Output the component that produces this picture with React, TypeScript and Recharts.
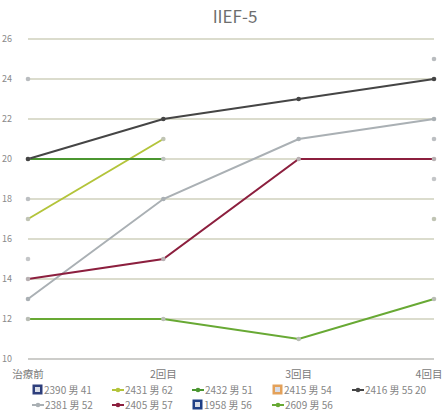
import { LineChart, Line, XAxis, YAxis, CartesianGrid } from "recharts"

const FONT = "'Noto Sans CJK JP', 'Noto Sans', sans-serif"

const visits = ["治療前", "2回目", "3回目", "4回目"]
const yTicks = [10, 12, 14, 16, 18, 20, 22, 24, 26]

// one array per patient, visit order as above (null = not measured)
const p2390 = [24, null, null, 25]
const p2431 = [17, 21, null, 17]
const p2432 = [20, 20, null, null]
const p2415 = [18, null, null, 21]
const p2416 = [20, 22, 23, 24]
const p2381 = [13, 18, 21, 22]
const p2405 = [14, 15, 20, 20]
const p1958 = [15, null, null, 19]
const p2609 = [12, 12, 11, 13]

type Series = { key: string; label: string; values: (number | null)[]; color: string; dot: string; square?: boolean }

const SERIES: Series[] = [
  { key: "p2390", label: "2390 男 41", values: p2390, color: "#2e3f7c", dot: "#b9bcbf", square: true },
  { key: "p2431", label: "2431 男 62", values: p2431, color: "#b3c43a", dot: "#c0c4b4" },
  { key: "p2432", label: "2432 男 51", values: p2432, color: "#4b9630", dot: "#bfc3c0" },
  { key: "p2415", label: "2415 男 54", values: p2415, color: "#e3a15a", dot: "#bcbfc2", square: true },
  { key: "p2416", label: "2416 男 55 20", values: p2416, color: "#454545", dot: "#454545" },
  { key: "p2381", label: "2381 男 52", values: p2381, color: "#aab0b4", dot: "#aab0b4" },
  { key: "p2405", label: "2405 男 57", values: p2405, color: "#8c1f3e", dot: "#b8b0b2" },
  { key: "p1958", label: "1958 男 56", values: p1958, color: "#1f3f86", dot: "#c4c6c8", square: true },
  { key: "p2609", label: "2609 男 56", values: p2609, color: "#68a934", dot: "#b9bdb5" },
]

const rows = visits.map((v, i) => {
  const r: Record<string, string | number | null> = { visit: v }
  SERIES.forEach((s) => (r[s.key] = s.values[i]))
  return r
})

// last category sits on the right edge, nudge it so the label stays inside
function VisitTick(props: any) {
  const { x, y, payload, index } = props
  const dx = index === visits.length - 1 ? -5 : 0
  return (
    <text x={x + dx} y={y + 11} textAnchor="middle" fontSize={10.5} fill="#7a7a7a" fontFamily={FONT}>
      {payload.value}
    </text>
  )
}

function LegendIcon({ s }: { s: Series }) {
  if (s.square) {
    return (
      <svg width={11} height={11} style={{ marginRight: 1 }}>
        <rect x={0.5} y={0.5} width={10} height={10} fill={s.color} />
        <rect x={3} y={3} width={5} height={5} fill="#d8dde8" />
      </svg>
    )
  }
  return (
    <svg width={12} height={8} style={{ marginRight: 1 }}>
      <line x1={0} y1={4} x2={12} y2={4} stroke={s.color} strokeWidth={2} />
      <circle cx={6} cy={4} r={2.3} fill={s.color} />
    </svg>
  )
}

export default function App() {
  return (
    <div style={{ position: "absolute", left: 0, top: 0, width: 445, height: 417, background: "#fff", fontFamily: FONT }}>
      <div style={{ position: "absolute", left: 0, width: 470, top: 3, textAlign: "center", fontSize: 17, color: "#6e6e6e" }}>
        IIEF-5
      </div>
      <LineChart width={445} height={382} data={rows} margin={{ top: 39, right: 11, left: 0, bottom: 0 }}>
        <CartesianGrid vertical={false} stroke="#cfd1bd" strokeWidth={1.5} />
        <XAxis
          dataKey="visit"
          height={23}
          axisLine={{ stroke: "#c8c8c8", strokeWidth: 1.5 }}
          tickLine={false}
          tick={<VisitTick />}
          interval={0}
        />
        <YAxis
          domain={[10, 26]}
          ticks={yTicks}
          width={28}
          axisLine={false}
          tickLine={false}
          tick={{ fontSize: 9, fill: "#8a8a8a", fontFamily: FONT }}
          tickMargin={10}
        />
        {SERIES.map((s) => (
          <Line
            key={s.key}
            dataKey={s.key}
            stroke={s.square ? "none" : s.color}
            strokeWidth={2}
            dot={{ r: 2.3, fill: s.dot, stroke: "none" }}
            activeDot={false}
            isAnimationActive={false}
          />
        ))}
      </LineChart>
      <div
        style={{
          position: "absolute",
          left: 32,
          top: 382,
          width: 410,
          display: "flex",
          flexWrap: "wrap",
          fontSize: 10,
          color: "#858585",
          lineHeight: "15px",
        }}
      >
        {SERIES.map((s) => (
          <div key={s.key} style={{ width: 80, display: "flex", alignItems: "center", whiteSpace: "nowrap" }}>
            <LegendIcon s={s} />
            {s.label}
          </div>
        ))}
      </div>
    </div>
  )
}
